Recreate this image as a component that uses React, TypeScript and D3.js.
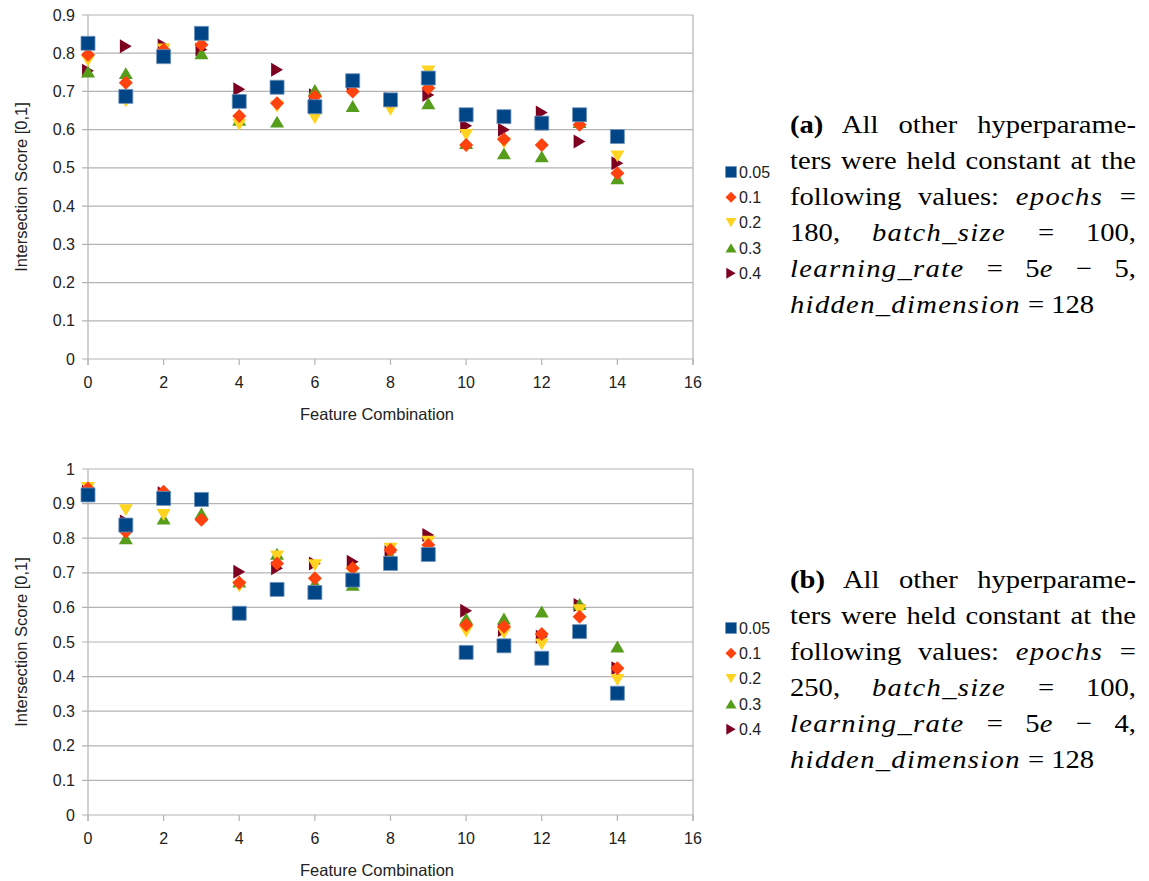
import React from 'react';
import * as d3 from 'd3';

// feature combinations 0..14, one array per learning-rate-ish setting
const combos = d3.range(15);
const seriesNames = ['0.05', '0.1', '0.2', '0.3', '0.4'];
const seriesColors = ['#004586', '#ff420e', '#ffd320', '#579d1c', '#7e0021'];

const topS005 = [0.826, 0.687, 0.791, 0.852, 0.674, 0.711, 0.66, 0.728, 0.678, 0.735, 0.639, 0.634, 0.617, 0.639, 0.582];
const topS01 = [0.796, 0.723, 0.809, 0.822, 0.636, 0.669, 0.687, 0.7, 0.675, 0.709, 0.56, 0.575, 0.56, 0.613, 0.486];
const topS02 = [0.78, 0.674, 0.81, 0.83, 0.613, 0.66, 0.63, 0.71, 0.652, 0.752, 0.586, 0.565, 0.61, 0.625, 0.53];
const topS03 = [0.752, 0.748, 0.8, 0.8, 0.626, 0.621, 0.704, 0.662, 0.68, 0.669, 0.565, 0.538, 0.53, 0.62, 0.473];
const topS04 = [0.754, 0.818, 0.82, 0.81, 0.706, 0.757, 0.69, 0.72, 0.68, 0.691, 0.61, 0.6, 0.645, 0.569, 0.512];

const botS005 = [0.925, 0.838, 0.915, 0.912, 0.583, 0.652, 0.643, 0.679, 0.727, 0.753, 0.47, 0.489, 0.453, 0.53, 0.352];
const botS01 = [0.944, 0.819, 0.934, 0.853, 0.671, 0.727, 0.684, 0.713, 0.766, 0.78, 0.549, 0.544, 0.523, 0.573, 0.424];
const botS02 = [0.945, 0.881, 0.867, 0.91, 0.66, 0.747, 0.722, 0.7, 0.77, 0.79, 0.53, 0.525, 0.493, 0.592, 0.39];
const botS03 = [0.94, 0.8, 0.857, 0.872, 0.675, 0.755, 0.67, 0.665, 0.75, 0.77, 0.568, 0.568, 0.588, 0.61, 0.487];
const botS04 = [0.935, 0.848, 0.93, 0.91, 0.703, 0.713, 0.727, 0.732, 0.76, 0.809, 0.59, 0.535, 0.515, 0.607, 0.424];

const xTicks = [0, 2, 4, 6, 8, 10, 12, 14, 16];
const topYTicks = [0, 0.1, 0.2, 0.3, 0.4, 0.5, 0.6, 0.7, 0.8, 0.9];
const botYTicks = [0, 0.1, 0.2, 0.3, 0.4, 0.5, 0.6, 0.7, 0.8, 0.9, 1];

const it = (s: string, k: string) => (
  <tspan key={k} fontStyle="italic" letterSpacing="1.2">{s}</tspan>
);

const captionA = [
  [<tspan key="b" fontWeight="bold">(a)</tspan>, ' All other hyperparame-'],
  ['ters were held constant at the'],
  ['following values: ', it('epochs', 'i'), ' ='],
  ['180, ', it('batch_size', 'i'), ' = 100,'],
  [it('learning_rate', 'i'), ' = 5', it('e', 'e'), ' − 5,'],
  [it('hidden_dimension', 'i'), ' = 128'],
];
const captionB = [
  [<tspan key="b" fontWeight="bold">(b)</tspan>, ' All other hyperparame-'],
  ['ters were held constant at the'],
  ['following values: ', it('epochs', 'i'), ' ='],
  ['250, ', it('batch_size', 'i'), ' = 100,'],
  [it('learning_rate', 'i'), ' = 5', it('e', 'e'), ' − 4,'],
  [it('hidden_dimension', 'i'), ' = 128'],
];

const FONT = '"Liberation Sans", Arial, sans-serif';
const SERIF = '"Liberation Serif", "DejaVu Serif", "Noto Serif", Times, serif';

function marker(kind: number, r = 7) {
  const p = d3.path();
  if (kind === 0) {
    p.rect(-r, -r, 2 * r, 2 * r);
  } else if (kind === 1) {
    p.moveTo(0, -r); p.lineTo(r, 0); p.lineTo(0, r); p.lineTo(-r, 0); p.closePath();
  } else if (kind === 2) {
    p.moveTo(-r, -r * 0.85); p.lineTo(r, -r * 0.85); p.lineTo(0, r * 0.85); p.closePath();
  } else if (kind === 3) {
    p.moveTo(-r, r * 0.85); p.lineTo(r, r * 0.85); p.lineTo(0, -r * 0.85); p.closePath();
  } else {
    p.moveTo(-r * 0.85, -r); p.lineTo(r * 0.85, 0); p.lineTo(-r * 0.85, r); p.closePath();
  }
  return p.toString();
}

function Chart({ top, bottom, yMax, yTicks, series, legendTop }: any) {
  const x = d3.scaleLinear().domain([0, 16]).range([88, 693]);
  const y = d3.scaleLinear().domain([0, yMax]).range([bottom, top]);
  const order = [4, 3, 2, 1, 0];
  return (
    <g fontFamily={FONT}>
      {yTicks.map((t: number) => (
        <g key={t}>
          <line x1={82} x2={693} y1={y(t)} y2={y(t)} stroke="#b3b3b3" strokeWidth={1.2} />
          <text x={75} y={y(t)} dy="0.35em" textAnchor="end" fontSize={16} fill="#222">{d3.format('~g')(t)}</text>
        </g>
      ))}
      <line x1={88} x2={88} y1={top} y2={bottom + 6} stroke="#b3b3b3" strokeWidth={1.2} />
      <line x1={693} x2={693} y1={top} y2={bottom + 6} stroke="#b3b3b3" strokeWidth={1.2} />
      {xTicks.map((t) => (
        <g key={t}>
          <line x1={x(t)} x2={x(t)} y1={bottom} y2={bottom + 6} stroke="#b3b3b3" strokeWidth={1.2} />
          <text x={x(t)} y={bottom + 23} dy="0.35em" textAnchor="middle" fontSize={16} fill="#222">{t}</text>
        </g>
      ))}
      <text x={377} y={bottom + 55} dy="0.35em" textAnchor="middle" fontSize={16.5} fill="#222">Feature Combination</text>
      <text transform={`translate(21,${(top + bottom) / 2}) rotate(-90)`} dy="0.35em" textAnchor="middle" fontSize={16.5} fill="#222">Intersection Score [0,1]</text>
      {order.map((si) => (
        <g key={si} fill={seriesColors[si]}>
          {series[si].map((v: number, i: number) => (
            <path key={i} d={marker(si)} transform={`translate(${x(combos[i])},${y(v)})`}
              stroke={si === 0 ? '#6f93bd' : 'none'} strokeWidth={si === 0 ? 0.8 : 0} />
          ))}
        </g>
      ))}
      {seriesNames.map((n, si) => (
        <g key={n} transform={`translate(731,${legendTop + si * 25.3})`}>
          <path d={marker(si, 5.5)} fill={seriesColors[si]} stroke={si === 0 ? '#6f93bd' : 'none'} strokeWidth={0.6} />
          <text x={8} dy="0.35em" fontSize={16} fill="#222">{n}</text>
        </g>
      ))}
    </g>
  );
}

// justified caption: every line but the last is stretched to the full width
function Caption({ lines, top }: any) {
  const left = 790;
  const sx = 1.1;
  const width = 346 / sx;
  return (
    <g fontFamily={SERIF} fontSize={26} fill="#000">
      {lines.map((l: any, i: number) => {
        const last = i === lines.length - 1;
        return (
          <text key={i} transform={`translate(${left},${top + i * 36}) scale(${sx},1)`} dy="0.35em" style={{ whiteSpace: 'pre' }}
            ref={(el) => {
              if (!el || last) return;
              el.style.wordSpacing = '0px';
              const w = el.getComputedTextLength();
              const txt = el.textContent || '';
              const gaps = (txt.trim().match(/ +/g) || []).length;
              if (gaps > 0) el.style.wordSpacing = `${(width - w) / gaps}px`;
            }}>
            {l}
          </text>
        );
      })}
    </g>
  );
}

export default function App() {
  return (
    <svg width={1149} height={881} style={{ position: 'absolute', left: 0, top: 0, background: '#fff' }}>
      <rect width={1149} height={881} fill="#fff" />
      <Chart top={15} bottom={359} yMax={0.9} yTicks={topYTicks}
        series={[topS005, topS01, topS02, topS03, topS04]} legendTop={172} />
      <Chart top={469} bottom={815} yMax={1} yTicks={botYTicks}
        series={[botS005, botS01, botS02, botS03, botS04]} legendTop={628} />
      <Caption lines={captionA} top={124} />
      <Caption lines={captionB} top={579} />
    </svg>
  );
}
